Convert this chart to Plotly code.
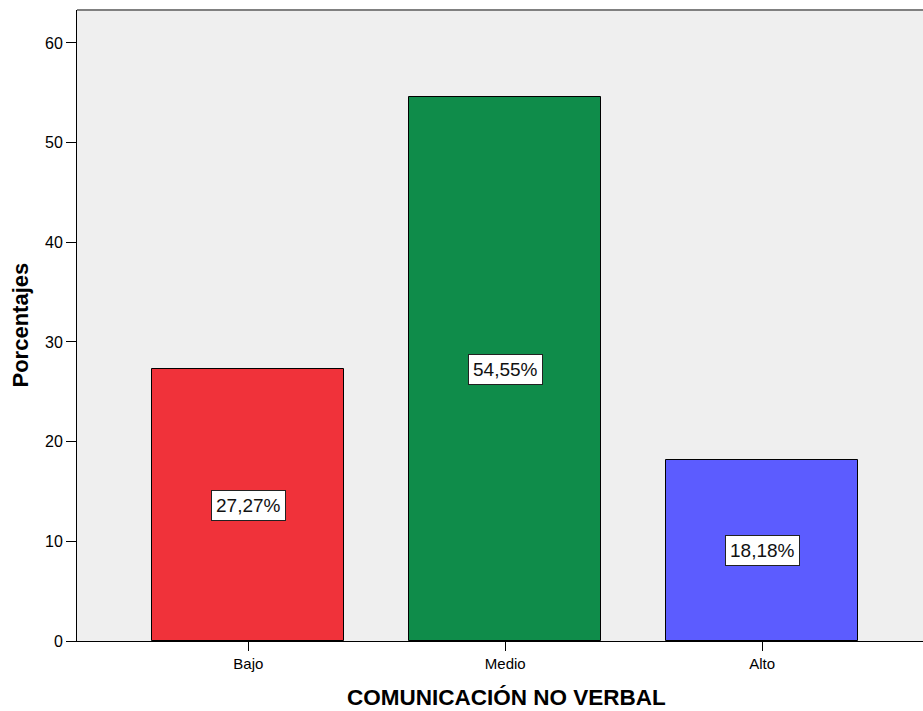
import plotly.graph_objects as go

categories = ["Bajo", "Medio", "Alto"]
values = [27.27, 54.55, 18.18]
labels = ["27,27%", "54,55%", "18,18%"]
colors = ["#F0323A", "#0F8C4A", "#5C5CFF"]
y_ticks = [0, 10, 20, 30, 40, 50, 60]

FONT = "Liberation Sans, Arial, sans-serif"

fig = go.Figure()
fig.add_trace(go.Bar(
    x=list(range(len(categories))),
    y=values,
    width=0.747,
    marker=dict(color=colors, line=dict(color="#000000", width=1)),
    hoverinfo="skip",
))

for i, (v, t) in enumerate(zip(values, labels)):
    fig.add_annotation(
        x=i, y=v / 2, xref="x", yref="y", text=t, showarrow=False,
        font=dict(family=FONT, size=19, color="#111111"),
        bgcolor="#FFFFFF", bordercolor="#222222", borderwidth=1, borderpad=4,
    )

fig.add_annotation(
    x=0, y=0.5, xref="paper", yref="paper", xshift=-57, text="<b>Porcentajes</b>",
    textangle=-90, showarrow=False, xanchor="center", yanchor="middle",
    font=dict(family=FONT, size=22, color="#000000"),
)
fig.add_annotation(
    x=0.508, y=0, xref="paper", yref="paper", yshift=-56, text="<b>COMUNICACIÓN NO VERBAL</b>",
    showarrow=False, xanchor="center", yanchor="middle",
    font=dict(family=FONT, size=22.5, color="#000000"),
)

fig.add_shape(type="line", xref="paper", yref="paper", x0=0, x1=1, y0=1, y1=1,
              line=dict(color="#808080", width=2))

fig.update_layout(
    width=923, height=711,
    margin=dict(l=77, r=0, t=10, b=70),
    paper_bgcolor="#FFFFFF",
    plot_bgcolor="#EFEFEF",
    showlegend=False,
    bargap=0,
    xaxis=dict(
        range=[-0.667, 2.626],
        tickmode="array", tickvals=list(range(len(categories))), ticktext=categories,
        ticks="outside", ticklen=9, tickwidth=1, tickcolor="#000000",
        showline=True, linecolor="#000000", linewidth=1,
        showgrid=False, zeroline=False,
        tickfont=dict(family=FONT, size=15, color="#000000"),
    ),
    yaxis=dict(
        range=[0, 63.3],
        tickmode="array", tickvals=y_ticks,
        ticks="outside", ticklen=10, tickwidth=1, tickcolor="#000000",
        showline=True, linecolor="#000000", linewidth=1,
        showgrid=False, zeroline=False,
        tickfont=dict(family=FONT, size=16, color="#000000"),
    ),
)

fig.write_html("out.html")
